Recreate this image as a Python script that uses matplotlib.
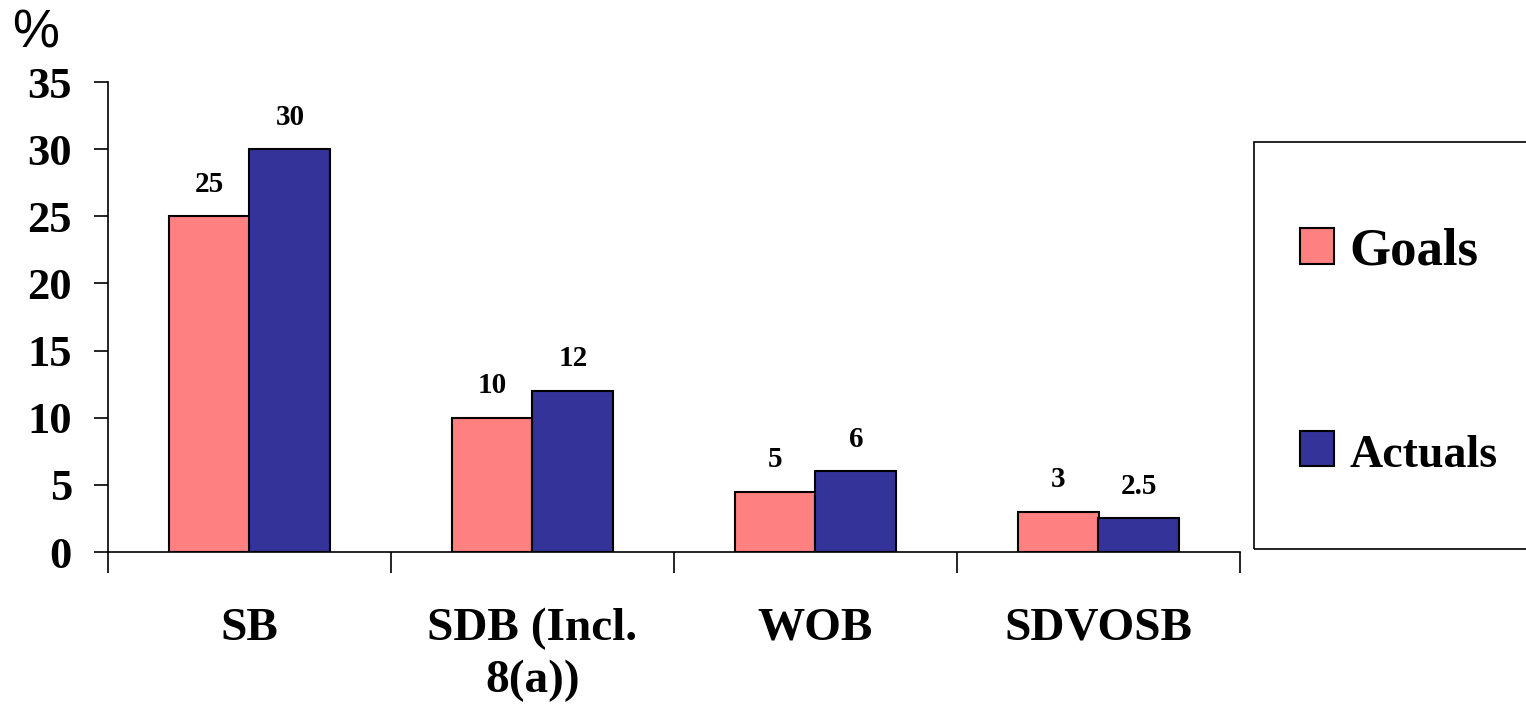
import matplotlib.pyplot as plt
from matplotlib.patches import Rectangle
import numpy as np

categories = ["SB", "SDB (Incl.\n8(a))", "WOB", "SDVOSB"]
goals = [25, 10, 4.5, 3]
actuals = [30, 12, 6, 2.5]
goal_labels = ["25", "10", "5", "3"]
actual_labels = ["30", "12", "6", "2.5"]
yticks = [0, 5, 10, 15, 20, 25, 30, 35]

W, H = 1526, 705
fig = plt.figure(figsize=(W / 100, H / 100), dpi=100)
ax = fig.add_axes([108 / W, 1 - 552 / H, (1240 - 108) / W, (552 - 82) / H])

serif = dict(family="Liberation Serif", weight="bold")
x = np.arange(len(categories))
bw = 0.286

ax.bar(x - bw / 2, goals, bw, color="#FF8080", edgecolor="black", linewidth=1.5, label="Goals")
ax.bar(x + bw / 2, actuals, bw, color="#333399", edgecolor="black", linewidth=1.5, label="Actuals")

for xi, v, t in zip(x - bw / 2, goals, goal_labels):
    ax.annotate(t, (xi, v), xytext=(0, 23), textcoords="offset points",
                ha="center", va="center", fontsize=21, **serif)
for xi, v, t in zip(x + bw / 2, actuals, actual_labels):
    ax.annotate(t, (xi, v), xytext=(0, 23), textcoords="offset points",
                ha="center", va="center", fontsize=21, **serif)

ax.set_xlim(-0.5, len(categories) - 0.5)
ax.set_ylim(0, 35)

# y axis
ax.set_yticks(yticks)
ax.set_yticklabels([str(t) for t in yticks], fontsize=32, **serif)
ax.tick_params(axis="y", direction="out", length=10, width=1.2, pad=16)

# x axis: separators as major ticks, category names as minor
ax.set_xticks(np.arange(len(categories) + 1) - 0.5)
ax.set_xticklabels([])
ax.tick_params(axis="x", which="major", direction="out", length=15, width=1.2)
ax.set_xticks(x, minor=True)
ax.set_xticklabels(categories, minor=True, fontsize=34, linespacing=1.3, **serif)
ax.tick_params(axis="x", which="minor", length=0, pad=40)

for s in ["top", "right"]:
    ax.spines[s].set_visible(False)
for s in ["left", "bottom"]:
    ax.spines[s].set_linewidth(1.2)

fig.text(12 / W, 1 - 33 / H, "%", fontsize=38, family="Liberation Sans",
         ha="left", va="center")

# legend box
fig.patches.append(Rectangle((1254 / W, 1 - 549 / H), 300 / W, (549 - 142) / H,
                             transform=fig.transFigure, fill=False,
                             edgecolor="black", linewidth=1.2))
leg = fig.legend(loc="upper left", bbox_to_anchor=(1252 / W, 1 - 180 / H),
                 frameon=False, prop=dict(size=38, **serif),
                 handlelength=0.65, handleheight=0.65, handletextpad=0.3,
                 labelspacing=2.95)
leg.get_texts()[1].set_fontsize(33)

fig.savefig("out.png", dpi=100)
